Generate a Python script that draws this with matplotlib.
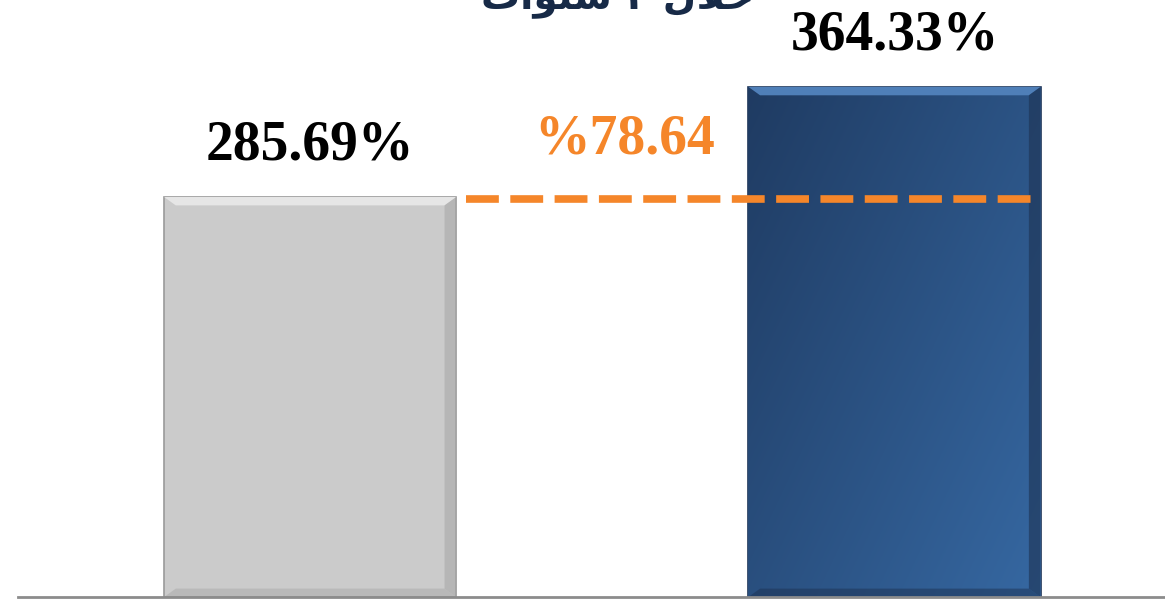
import matplotlib
matplotlib.use("Agg")
import matplotlib.pyplot as plt
import numpy as np

# ---- data ----
categories = ["A", "B"]
values = [285.69, 364.33]
value_labels = ["285.69%", "364.33%"]
growth_label = "%78.64"
# Arabic title (pre-shaped, visual order), mostly cut off at the top
title_text = "\ufe95\ufe8d\ufeee\ufee8\ufeb3 \u0663 \ufedd\ufefc\ufea7"

W, H = 1165, 600
fig = plt.figure(figsize=(W / 100, H / 100), dpi=100)
ax = fig.add_axes([18 / W, 3 / H, 1147 / W, 597 / H])
ax.set_xlim(-0.5, 1.463)
ax.set_ylim(0, 426.4)

x = np.arange(len(categories))
bar_w = 0.5
colors = ["#cbcbcb", "#2c5285"]
bars = ax.bar(x, values, width=bar_w, color=colors, zorder=2,
              edgecolor=["#9a9a9a", "#1e3558"], linewidth=1.2)

# gradient on the blue bar
b = bars[1]
x0, y0 = b.get_x(), 0
x1, y1 = b.get_x() + b.get_width(), b.get_height()
ny, nx = 200, 200
gx = np.linspace(0, 1, nx)[None, :]
gy = np.linspace(0, 1, ny)[:, None]  # 0 bottom .. 1 top (origin lower)
t = 0.55 * gx + 0.45 * (1 - gy)
c_dark = np.array([0x1f, 0x3b, 0x62]) / 255
c_light = np.array([0x36, 0x68, 0xa2]) / 255
img = c_dark[None, None, :] * (1 - t[..., None]) + c_light[None, None, :] * t[..., None]
im = ax.imshow(img, extent=[x0, x1, y0, y1], origin="lower", aspect="auto", zorder=2.1)
im.set_clip_path(b)

# bevel highlights
for bb, hi, lo in [(bars[0], "#e6e6e6", "#a8a8a8"), (bars[1], "#4f7fb8", "#1d3252")]:
    bx0 = bb.get_x(); bx1 = bx0 + bb.get_width(); top = bb.get_height()
    dx = 0.02; dy = 6
    ax.fill([bx0, bx1, bx1 - dx, bx0 + dx], [top, top, top - dy, top - dy], color=hi, zorder=2.2, lw=0)
    ax.fill([bx1, bx1, bx1 - dx, bx1 - dx], [0, top, top - dy, dy], color=lo, zorder=2.2, lw=0, alpha=0.6)
    ax.fill([bx0, bx1, bx1 - dx, bx0 + dx], [0, 0, dy, dy], color=lo, zorder=2.2, lw=0, alpha=0.5)

# value labels
for xi, v, lab in zip(x, values, value_labels):
    ax.text(xi, v + 37, lab, ha="center", va="center", fontsize=40,
            fontweight="bold", family="Liberation Serif", color="black", zorder=3)

# dashed growth line
ax.plot([0.267, 1.235], [values[0] - 1.5, values[0] - 1.5], color="#f5862a", lw=5.5,
        dashes=(4.3, 1.5), zorder=4, solid_capstyle="butt", dash_capstyle="butt")
ax.text(0.538, values[0] + 41, growth_label, ha="center", va="center", fontsize=40,
        fontweight="bold", family="Liberation Serif", color="#f5862a", zorder=3)

# title (cut off at the top, as in the original)
fig.text(618 / W, 1 + 2 / H, title_text, ha="center", va="center", fontsize=28,
         fontweight="bold", family="DejaVu Sans", color="#172a47")

for s in ["top", "right", "left"]:
    ax.spines[s].set_visible(False)
ax.spines["bottom"].set_color("#8c8c8c")
ax.spines["bottom"].set_linewidth(2)
ax.set_xticks([]); ax.set_yticks([])
ax.patch.set_alpha(0)

fig.savefig("out.png", dpi=100)
